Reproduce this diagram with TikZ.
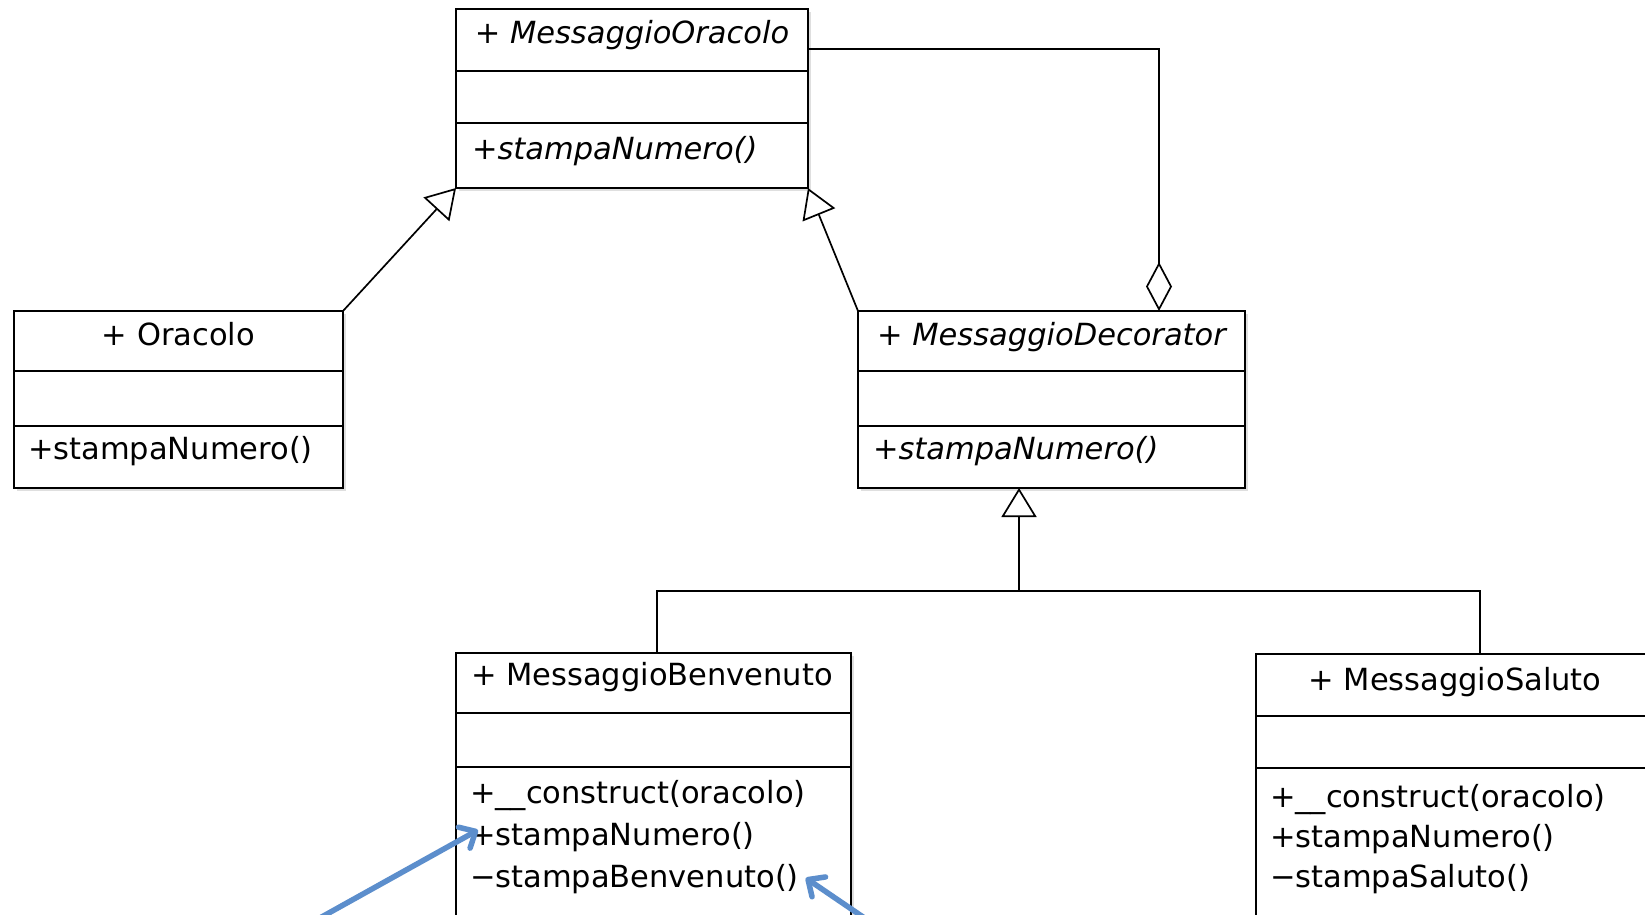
\documentclass[tikz,border=0pt]{standalone}
\usepackage{fontspec}
\setmainfont{DejaVu Sans}
\usetikzlibrary{arrows.meta,calc,shadows}
\definecolor{noteblue}{RGB}{92,142,204}
\newcommand{\umlminus}{\char"2212}

\begin{document}
\begin{tikzpicture}[x=1pt,y=-1pt,
  classbox/.style={draw=black, line width=2.3pt, fill=white, inner sep=0pt,
    outer sep=0pt, anchor=north west,
    drop shadow={shadow xshift=3pt, shadow yshift=-3pt, opacity=0.25}},
  lbl/.style={inner sep=0pt, outer sep=0pt, font=\fontsize{30.5}{36}\selectfont},
  cname/.style={lbl, anchor=base},
  iname/.style={cname, font=\fontsize{30.5}{36}\selectfont\itshape},
  op/.style={lbl, anchor=base west},
  iop/.style={op, font=\fontsize{30.5}{36}\selectfont\itshape},
  divider/.style={line width=2.3pt},
  link/.style={line width=1.7pt, line join=miter},
  gen/.style={link, -{Triangle[open, length=29pt, width=35pt, line width=1.7pt]}},
  agg/.style={link, -{Diamond[open, length=49pt, width=26pt, line width=1.7pt]}},
  note/.style={draw=noteblue, line width=5.5pt, line cap=round,
    -{Straight Barb[length=13pt, width=24pt, line cap=round, line join=round]}}
]
\useasboundingbox (0,0) rectangle (1645,914);
\clip (0,0) rectangle (1645,914);

% ---- classes ----
\node[classbox, minimum width=352pt, minimum height=179pt] (mo) at (456,9) {};
\node[classbox, minimum width=329pt, minimum height=177pt] (ora) at (14,311) {};
\node[classbox, minimum width=387pt, minimum height=177pt] (dec) at (858,311) {};
\node[classbox, minimum width=395pt, minimum height=300pt] (ben) at (456,653) {};
\node[classbox, minimum width=398pt, minimum height=300pt] (sal) at (1256,654) {};

% compartment dividers
\draw[divider] ($(mo.north west)+(0,62)$) -- ($(mo.north east)+(0,62)$);
\draw[divider] ($(mo.north west)+(0,114)$) -- ($(mo.north east)+(0,114)$);
\draw[divider] ($(ora.north west)+(0,60)$) -- ($(ora.north east)+(0,60)$);
\draw[divider] ($(ora.north west)+(0,115)$) -- ($(ora.north east)+(0,115)$);
\draw[divider] ($(dec.north west)+(0,60)$) -- ($(dec.north east)+(0,60)$);
\draw[divider] ($(dec.north west)+(0,115)$) -- ($(dec.north east)+(0,115)$);
\draw[divider] ($(ben.north west)+(0,60)$) -- ($(ben.north east)+(0,60)$);
\draw[divider] ($(ben.north west)+(0,114)$) -- ($(ben.north east)+(0,114)$);
\draw[divider] ($(sal.north west)+(0,62)$) -- ($(sal.north east)+(0,62)$);
\draw[divider] ($(sal.north west)+(0,114)$) -- ($(sal.north east)+(0,114)$);

% names and operations
\node[iname] (moName) at ($(mo.north)+(0,34)$) {+ MessaggioOracolo};
\node[iop] (moOp) at ($(mo.north west)+(16,150)$) {+stampaNumero()};

\node[cname] (oraName) at ($(ora.north)+(0,34)$) {+ Oracolo};
\node[op] (oraOp) at ($(ora.north west)+(14,148)$) {+stampaNumero()};

\node[iname] (decName) at ($(dec.north)+(0,34)$) {+ MessaggioDecorator};
\node[iop] (decOp) at ($(dec.north west)+(15,148)$) {+stampaNumero()};

\node[cname] (benName) at ($(ben.north west)+(196,32)$) {+ MessaggioBenvenuto};
\node[op] (benOpA) at ($(ben.north west)+(14,150)$) {+\_\_construct(oracolo)};
\node[op] (benOpB) at ($(ben.north west)+(14,192)$) {+stampaNumero()};
\node[op] (benOpC) at ($(ben.north west)+(14,234)$) {\umlminus stampaBenvenuto()};

\node[cname] (salName) at ($(sal.north west)+(199,36)$) {+ MessaggioSaluto};
\node[op] (salOpA) at ($(sal.north west)+(14,153)$) {+\_\_construct(oracolo)};
\node[op] (salOpB) at ($(sal.north west)+(14,193)$) {+stampaNumero()};
\node[op] (salOpC) at ($(sal.north west)+(14,233)$) {\umlminus stampaSaluto()};

% ---- relations ----
\draw[gen] (ora.north east) -- (mo.south west);
\draw[gen] (dec.north west) -- (mo.south east);

\coordinate (aggTop) at ($(dec.north west)+(301,0)$);
\draw[agg] ($(mo.north east)+(0,40)$) -| (aggTop);

\coordinate (genJoin) at ($(dec.south west)+(161,103)$);
\coordinate (genTip) at ($(dec.south west)+(161,0)$);
\draw[link] ($(ben.north west)+(201,0)$) |- (genJoin);
\draw[link] ($(sal.north west)+(224,0)$) |- (genJoin);
\draw[gen] (genJoin) -- (genTip);

% ---- pointer arrows ----
\coordinate (noteA) at (318,919);
\coordinate (noteB) at (866,919);
\draw[note] (noteA) -- ($(benOpB.base west)+(8,-15)$);
\draw[note] (noteB) -- ($(benOpC.base east)+(7,-9)$);
\end{tikzpicture}
\end{document}
